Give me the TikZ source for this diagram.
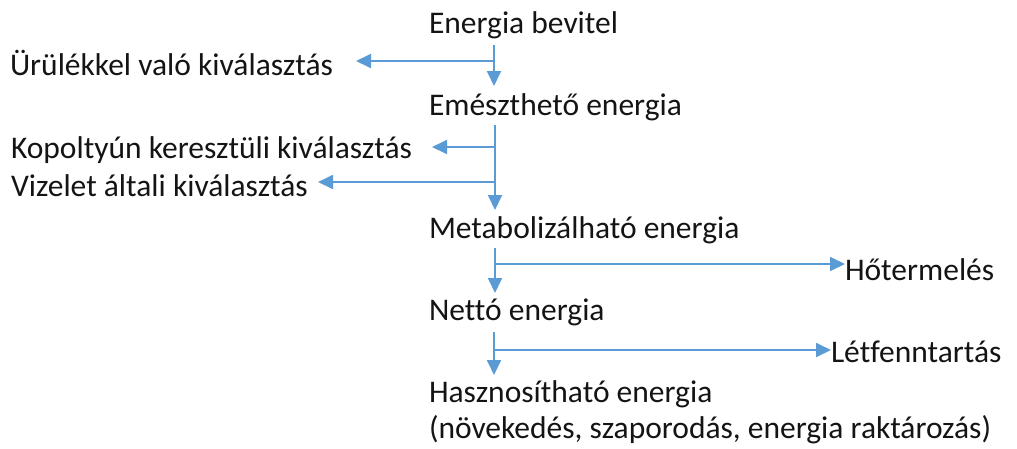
\documentclass[tikz,border=0pt]{standalone}
\usepackage{fontspec}
\setmainfont{Carlito}[Ligatures={NoCommon}]
\usetikzlibrary{arrows.meta,calc}
\definecolor{arrblue}{HTML}{5B9BD5}
\definecolor{txt}{HTML}{141414}
\begin{document}
\begin{tikzpicture}[x=1pt,y=-1pt,
  lbl/.style={anchor=base west,inner sep=0pt,outer sep=0pt,text=txt,font=\fontsize{31.5}{38}\selectfont},
  arr/.style={draw=arrblue,line width=1.8pt,-{Triangle[length=15pt,width=14pt]}}]
\useasboundingbox (0,0) rectangle (1017,448);
\node[lbl] (eb) at (429,33) {Energia bevitel};
\node[lbl] (ur) at (10,75) {Ürülékkel való kiválasztás};
\node[lbl] (em) at (429,115) {Emészthető energia};
\node[lbl] (ko) at (11,158) {Kopoltyún keresztüli kiválasztás};
\node[lbl] (vi) at (11,196) {Vizelet általi kiválasztás};
\node[lbl] (me) at (429,238) {Metabolizálható energia};
\node[lbl] (ho) at (845,280) {Hőtermelés};
\node[lbl] (ne) at (429,320) {Nettó energia};
\node[lbl] (le) at (831,362) {Létfenntartás};
\node[lbl] (ha) at (429,402) {Hasznosítható energia};
\node[lbl] (nv) at (429,438) {(növekedés, szaporodás, energia raktározás)};
% column 1
\coordinate (t1) at (494,45);
\coordinate (b1) at (494,86);
\coordinate (j1) at (494,61);
\draw[arr] (t1) -- (b1);
\draw[arr] (j1) -- (356,61);
% column 2
\coordinate (t2) at (495,125);
\coordinate (b2) at (495,210);
\coordinate (j2) at (495,147);
\coordinate (j3) at (495,182);
\draw[arr] (t2) -- (b2);
\draw[arr] (j2) -- (432,147);
\draw[arr] (j3) -- (318,182);
% column 3
\coordinate (t3) at (495,248);
\coordinate (b3) at (495,293);
\coordinate (j4) at (495,264);
\draw[arr] (t3) -- (b3);
\draw[arr] (j4) -- (j4 -| ho.west);
% column 4
\coordinate (t4) at (494,332);
\coordinate (b4) at (494,375);
\coordinate (j5) at (494,350);
\draw[arr] (t4) -- (b4);
\draw[arr] (j5) -- (j5 -| le.west);
\end{tikzpicture}
\end{document}
